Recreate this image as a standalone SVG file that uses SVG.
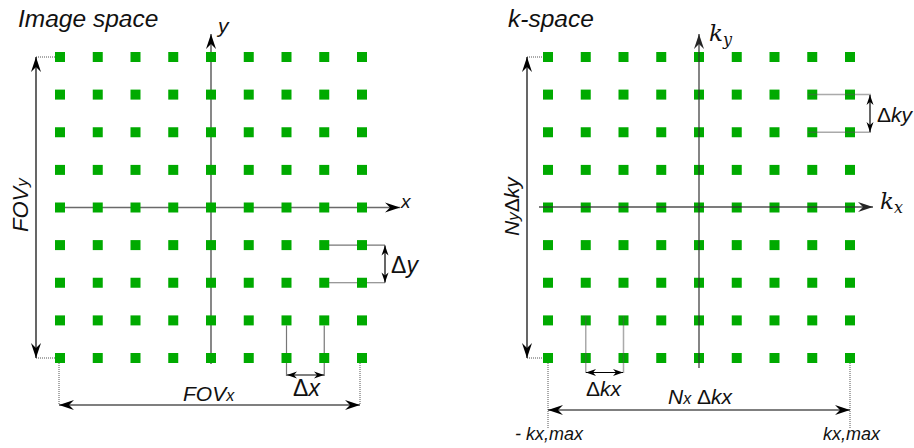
<svg xmlns="http://www.w3.org/2000/svg" xmlns:xlink="http://www.w3.org/1999/xlink" width="914" height="448" viewBox="0 0 914 448">
<style>
.sq{fill:#00aa00}
.axisL{stroke:#6a6a6a;stroke-width:1.6;fill:none}
.axisR{stroke:#333;stroke-width:1.4;fill:none;opacity:0.85}
.dim{stroke:#000;stroke-width:1.2;fill:none}
.ext{stroke:#777;stroke-width:1.2;fill:none}
.extR{stroke:#555;stroke-width:1.5;fill:none;opacity:0.5}
.dot{stroke:#555;stroke-width:1;stroke-dasharray:1,1;fill:none}
text{font-family:"Liberation Sans",Arial,sans-serif;font-style:italic;fill:#111}
.math{font-family:"DejaVu Serif","Liberation Serif",serif;font-style:italic}
.up{font-style:normal}
</style>
<defs>
<marker id="ah" viewBox="-16 -6 17 12" refX="0" refY="0" markerWidth="17" markerHeight="12" orient="auto-start-reverse" markerUnits="userSpaceOnUse">
<path d="M0,0 L-15,-5 L-10,0 L-15,5 Z" fill="#000"/>
</marker>
<marker id="as" viewBox="-11 -4 12 8" refX="0" refY="0" markerWidth="12" markerHeight="8" orient="auto-start-reverse" markerUnits="userSpaceOnUse">
<path d="M0,0 L-10,-3.5 L-7,0 L-10,3.5 Z" fill="#000"/>
</marker>
<g id="row">
<rect class="sq" x="-5" y="-5" width="10" height="10"/>
<rect class="sq" x="32.75" y="-5" width="10" height="10"/>
<rect class="sq" x="70.5" y="-5" width="10" height="10"/>
<rect class="sq" x="108.25" y="-5" width="10" height="10"/>
<rect class="sq" x="146" y="-5" width="10" height="10"/>
<rect class="sq" x="183.75" y="-5" width="10" height="10"/>
<rect class="sq" x="221.5" y="-5" width="10" height="10"/>
<rect class="sq" x="259.25" y="-5" width="10" height="10"/>
<rect class="sq" x="297" y="-5" width="10" height="10"/>
</g>
<g id="grid">
<use xlink:href="#row" href="#row" transform="translate(0,57)"/>
<use xlink:href="#row" href="#row" transform="translate(0,94.6)"/>
<use xlink:href="#row" href="#row" transform="translate(0,132.25)"/>
<use xlink:href="#row" href="#row" transform="translate(0,169.9)"/>
<use xlink:href="#row" href="#row" transform="translate(0,207.5)"/>
<use xlink:href="#row" href="#row" transform="translate(0,245.1)"/>
<use xlink:href="#row" href="#row" transform="translate(0,282.75)"/>
<use xlink:href="#row" href="#row" transform="translate(0,320.4)"/>
<use xlink:href="#row" href="#row" transform="translate(0,358)"/>
</g>
</defs>

<!-- Image space panel -->
<g id="image-space">
<text x="18" y="27" font-size="24.5">Image space</text>
<g id="connectors-left">
<line class="axisL" x1="211" y1="364" x2="211" y2="34" marker-end="url(#ah)"/>
<line class="axisL" x1="55" y1="207.5" x2="400" y2="207.5" marker-end="url(#ah)"/>
<line class="ext" x1="329" y1="245.1" x2="385" y2="245.1"/>
<line class="ext" x1="329" y1="282.75" x2="385" y2="282.75"/>
<line class="ext" x1="286.5" y1="325.4" x2="286.5" y2="376"/>
<line class="ext" x1="324.25" y1="325.4" x2="324.25" y2="376"/>
<line class="dot" x1="36" y1="57" x2="55" y2="57"/>
<line class="dot" x1="36" y1="358" x2="55" y2="358"/>
<line class="dot" x1="59" y1="363" x2="59" y2="405"/>
<line class="dot" x1="360" y1="363" x2="360" y2="405"/>
</g>
<use xlink:href="#grid" href="#grid" transform="translate(60,0)"/>
<g id="dims-left">
<line class="dim" x1="36" y1="57" x2="36" y2="358" marker-start="url(#ah)" marker-end="url(#ah)"/>
<line class="dim" x1="59" y1="405" x2="360" y2="405" marker-start="url(#ah)" marker-end="url(#ah)"/>
<line class="dim" x1="385" y1="245.5" x2="385" y2="282.5" marker-start="url(#as)" marker-end="url(#as)"/>
<line class="dim" x1="287" y1="375" x2="324" y2="375" marker-start="url(#as)" marker-end="url(#as)"/>
</g>
<text x="218" y="33" font-size="21">y</text>
<text x="401" y="208" font-size="19">x</text>
<text x="183" y="401" font-size="21">FOV<tspan font-size="16">x</tspan></text>
<text transform="translate(28,232) rotate(-90)" font-size="22">FOV<tspan font-size="17">y</tspan></text>
<text x="391" y="273" font-size="23"><tspan class="up">Δ</tspan>y</text>
<text x="293" y="396" font-size="23"><tspan class="up">Δ</tspan>x</text>
</g>

<!-- k-space panel -->
<g id="k-space">
<text x="508" y="27" font-size="24.5">k-space</text>
<use xlink:href="#grid" href="#grid" transform="translate(548,0)"/>
<g id="connectors-right">
<line class="axisR" x1="699" y1="368" x2="699" y2="34" marker-end="url(#ah)"/>
<line class="axisR" x1="539" y1="207" x2="873" y2="207" marker-end="url(#ah)"/>
<line class="extR" x1="808" y1="94.6" x2="871" y2="94.6"/>
<line class="extR" x1="808" y1="132.25" x2="871" y2="132.25"/>
<line class="extR" x1="585.75" y1="316" x2="585.75" y2="373"/>
<line class="extR" x1="623.5" y1="316" x2="623.5" y2="373"/>
<line class="dot" x1="527" y1="57" x2="543" y2="57"/>
<line class="dot" x1="527" y1="358" x2="543" y2="358"/>
<line class="dot" x1="548" y1="363" x2="548" y2="428"/>
<line class="dot" x1="850" y1="363" x2="850" y2="428"/>
</g>
<g id="dims-right">
<line class="dim" x1="527" y1="57" x2="527" y2="358" marker-start="url(#ah)" marker-end="url(#ah)"/>
<line class="dim" x1="548" y1="410" x2="850" y2="410" marker-start="url(#ah)" marker-end="url(#ah)"/>
<line class="dim" x1="870" y1="95" x2="870" y2="132" marker-start="url(#as)" marker-end="url(#as)"/>
<line class="dim" x1="586" y1="372.5" x2="623" y2="372.5" marker-start="url(#as)" marker-end="url(#as)"/>
</g>
<text class="math" x="709" y="41" font-size="23">k<tspan font-size="16" dy="4">y</tspan></text>
<text class="math" x="880" y="209" font-size="23">k<tspan font-size="16" dy="4">x</tspan></text>
<text x="877" y="122" font-size="21"><tspan class="up">Δ</tspan>ky</text>
<text x="586" y="396" font-size="21"><tspan class="up">Δ</tspan>kx</text>
<text x="668" y="404" font-size="21">N<tspan font-size="16">x</tspan> <tspan class="up">Δ</tspan>kx</text>
<text transform="translate(519,236) rotate(-90)" font-size="21">N<tspan font-size="17">y</tspan><tspan class="up">Δ</tspan>ky</text>
<text x="515" y="440" font-size="18">- kx,max</text>
<text x="823" y="440" font-size="18">kx,max</text>
</g>
</svg>
